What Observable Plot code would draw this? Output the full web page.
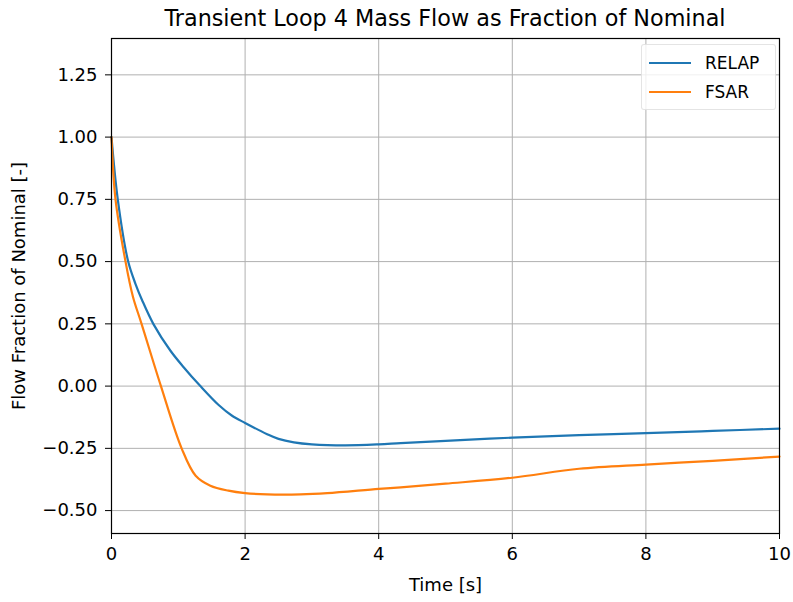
<!DOCTYPE html>
<html><head><meta charset="utf-8">
<script src="https://cdn.jsdelivr.net/npm/d3@7"></script>
<script src="https://cdn.jsdelivr.net/npm/@observablehq/plot@0.6"></script>
<style>
body{margin:0;background:#fff;font-family:"DejaVu Sans",sans-serif;}
#wrap{position:relative;width:793px;height:602px;}
#title{position:absolute;top:5px;left:111px;width:668px;text-align:center;font-size:22.3px;color:#000;white-space:nowrap;}
#legend{position:absolute;left:641px;top:44px;width:133px;height:64px;border:1px solid rgba(210,210,210,0.6);border-radius:3px;background:rgba(255,255,255,0.8);font-size:17px;}
.li{position:absolute;left:7px;height:20px;display:flex;align-items:center;}
.sw{width:42px;height:2.2px;margin-right:14px;}
</style></head>
<body>
<div id="wrap">
<div id="chart"></div>
<div id="title">Transient Loop 4 Mass Flow as Fraction of Nominal</div>
<div id="legend"></div>
</div>
<script>
const seriesNames = ["RELAP", "FSAR"];
const seriesColors = ["#1f77b4", "#ff7f0e"];
const relapT = [0, 0.094, 0.25, 0.36, 0.46, 0.63, 0.88, 1.08, 1.33, 1.6, 1.8, 2.0, 2.33, 2.5, 2.73, 3.0, 3.5, 4.0, 4.33, 5.0, 6.0, 7.0, 8.0, 9.0, 10.0];
const relapV = [1.0, 0.75, 0.5, 0.41, 0.344, 0.248, 0.143, 0.076, 0.0, -0.075, -0.118, -0.148, -0.193, -0.212, -0.226, -0.234, -0.238, -0.234, -0.229, -0.220, -0.207, -0.197, -0.189, -0.180, -0.171];
const fsarT = [0, 0.06, 0.21, 0.32, 0.45, 0.74, 1.05, 1.26, 1.48, 1.75, 2.0, 2.33, 2.83, 3.23, 4.0, 4.33, 5.0, 6.0, 7.0, 8.0, 9.0, 10.0];
const fsarV = [1.0, 0.75, 0.5, 0.36, 0.25, 0.0, -0.25, -0.36, -0.40, -0.42, -0.430, -0.435, -0.435, -0.430, -0.413, -0.407, -0.392, -0.368, -0.332, -0.315, -0.300, -0.283];
const xTicks = [0, 2, 4, 6, 8, 10];
const yTicks = [-0.5, -0.25, 0, 0.25, 0.5, 0.75, 1.0, 1.25];

const data = [
  ...relapT.map((t, i) => ({t, v: relapV[i], s: "RELAP"})),
  ...fsarT.map((t, i) => ({t, v: fsarV[i], s: "FSAR"}))
];

const chart = Plot.plot({
  width: 793, height: 602,
  marginLeft: 111, marginRight: 14, marginTop: 38, marginBottom: 69,
  style: {fontFamily: "DejaVu Sans, sans-serif", fontSize: "16px", color: "#000", background: "#fff"},
  x: {domain: [0, 10]},
  y: {domain: [-0.592, 1.396]},
  color: {domain: seriesNames, range: seriesColors},
  marks: [
    Plot.gridX(xTicks, {stroke: "#b0b0b0", strokeOpacity: 1, strokeWidth: 1}),
    Plot.gridY(yTicks, {stroke: "#b0b0b0", strokeOpacity: 1, strokeWidth: 1}),
    Plot.line(data, {x: "t", y: "v", z: "s", stroke: "s", strokeWidth: 2.2, curve: "catmull-rom"}),
    Plot.frame({stroke: "#000", strokeWidth: 1.2}),
    Plot.axisX(xTicks, {tickSize: 6, tickPadding: 8, tickFormat: d3.format("d"), label: "Time [s]", labelAnchor: "center", labelArrow: "none", labelOffset: 57, fontSize: 18}),
    Plot.axisY(yTicks, {tickSize: 6, tickPadding: 8, tickFormat: d3.format(".2f"), label: "Flow Fraction of Nominal [-]", labelAnchor: "center", labelArrow: "none", labelOffset: 99, fontSize: 18})
  ]
});
document.getElementById("chart").appendChild(chart);

const leg = document.getElementById("legend");
seriesNames.forEach((n, i) => {
  const d = document.createElement("div");
  d.className = "li";
  d.style.top = (8 + i * 29) + "px";
  d.innerHTML = `<div class="sw" style="background:${seriesColors[i]}"></div><span>${n}</span>`;
  leg.appendChild(d);
});
</script>
</body></html>
